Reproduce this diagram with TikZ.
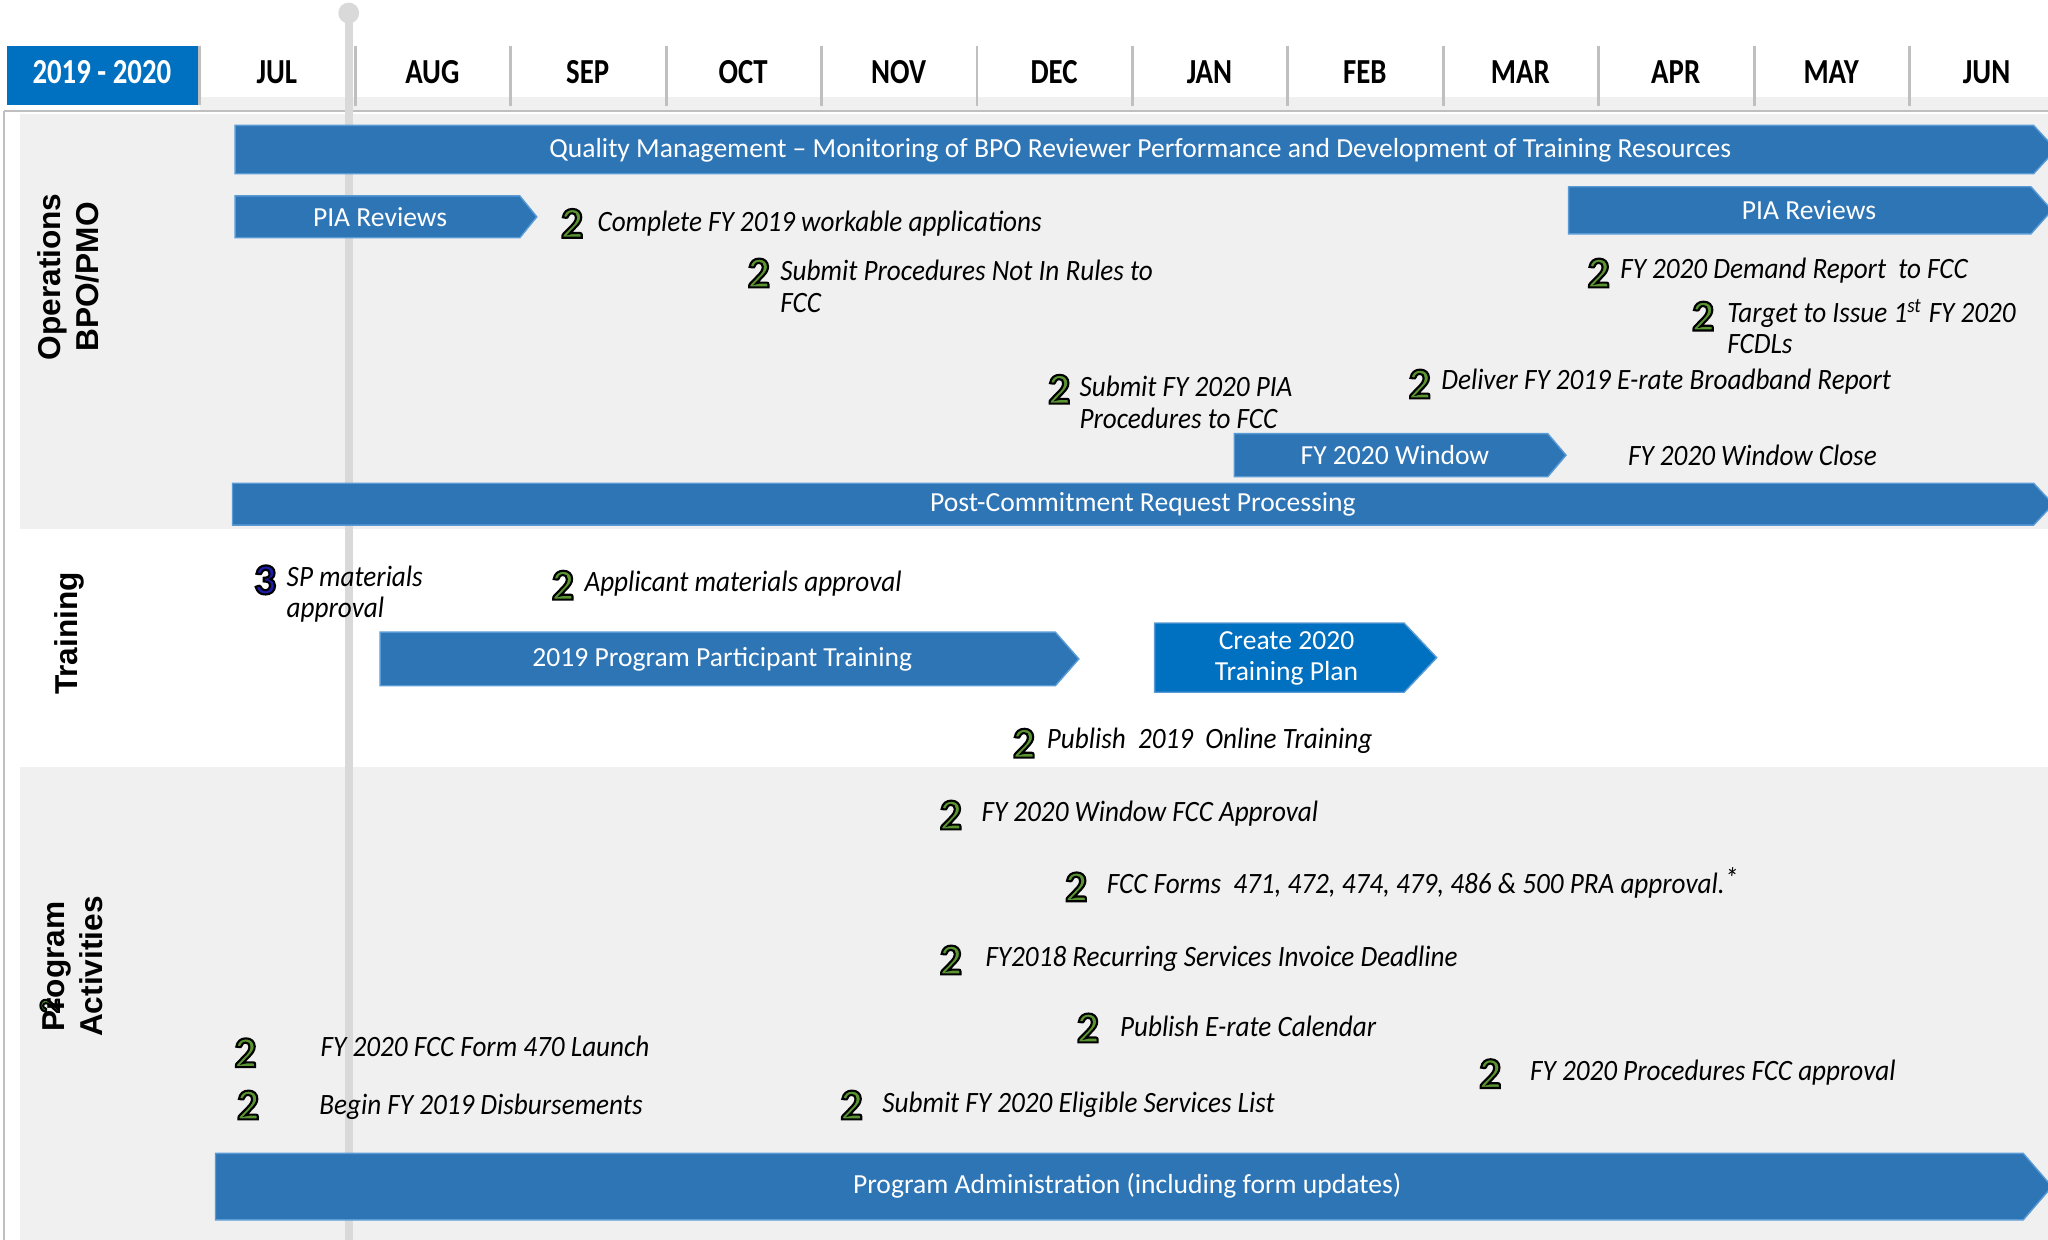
\documentclass[tikz,border=0pt]{standalone}
\usepackage{fontspec}
\setmainfont{Carlito}
\newfontfamily\itemfont[FakeStretch=0.92]{Carlito}
\newfontfamily\headfont[FakeStretch=0.82]{Carlito}
\newfontfamily\lanefont{Liberation Sans}
\definecolor{barblue}{HTML}{2E75B6}
\definecolor{baredge}{HTML}{5B9BD5}
\definecolor{brightblue}{HTML}{0070C0}
\definecolor{lanegray}{HTML}{F0F0F0}
\definecolor{pingray}{HTML}{D9D9D9}
\definecolor{sepgray}{HTML}{BFBFBF}
\definecolor{numgreen}{HTML}{5A9531}
\definecolor{numblue}{HTML}{1C1CA6}
% outlined digit: green fill, black stroke
\newcommand{\ringnum}[1]{\special{pdf:literal direct 0 0 0 RG 2 Tr 0.6 w}#1\special{pdf:literal direct 0 Tr 0.3985 w}}

\begin{document}
\begin{tikzpicture}[x=0.013061cm, y=-0.013061cm,
    bar/.style={fill=barblue, draw=baredge, line width=0.4pt},
    bartext/.style={text=white, font=\fontsize{7.85}{9}\selectfont, align=center},
    item/.style={anchor=west, inner sep=0pt, align=left, font=\itemfont\itshape\fontsize{8.4}{9}\selectfont},
    num/.style={inner sep=0pt, text=numgreen, font=\bfseries\fontsize{12.5}{12.5}\selectfont},
    month/.style={font=\headfont\bfseries\fontsize{10}{10}\selectfont},
    lane/.style={rotate=90, align=center, font=\lanefont\bfseries\fontsize{9}{10.8}\selectfont}]
        \useasboundingbox (0,0) rectangle (1568,949);
        \clip (0,0) rectangle (1568,949);
        % Lanes
        \fill[lanegray] (15,87) rectangle (1568,405);
        \fill[lanegray] (15,587) rectangle (1568,949);
        % Header
        \fill[lanegray] (153,74) rectangle (1568,85);
        \draw[sepgray, line width=0.8pt] (3,85) -- (1568,85);
        \draw[sepgray, line width=0.6pt] (3,85) -- (3,949);
        \fill[brightblue] (5,35) rectangle (152,80);
        \draw[sepgray, line width=0.8pt] (153,35) -- (153,80);
        \node[month, text=white] (year) at (78,55) {2019 - 2020};
        \foreach \x in {272,391,...,1462}
          \draw[sepgray, line width=0.8pt] (\x,35) -- (\x,81);
        \foreach \m [count=\i] in {JUL,AUG,SEP,OCT,NOV,DEC,JAN,FEB,MAR,APR,MAY,JUN}
          \node[month] (mon\i) at (93+119*\i,55) {\m};
        % Today marker
        \fill[pingray] (267,10) circle (8);
        \draw[pingray, line width=2.2pt] (267,14) -- (267,949);
        % Bars
        \draw[bar] (180,96) -- (1557,96) -- (1574,114.5) -- (1557,133) -- (180,133) -- cycle;
        \draw[bar] (180,150) -- (398,150) -- (411,166) -- (398,182) -- (180,182) -- cycle;
        \draw[bar] (1201,143) -- (1555,143) -- (1571,161) -- (1555,179) -- (1201,179) -- cycle;
        \draw[bar] (945,332) -- (1185,332) -- (1199,348.5) -- (1185,365) -- (945,365) -- cycle;
        \draw[bar] (178,370) -- (1557,370) -- (1572,386) -- (1557,402) -- (178,402) -- cycle;
        \draw[bar] (291,484) -- (808,484) -- (826,504.5) -- (808,525) -- (291,525) -- cycle;
        \draw[bar, fill=brightblue] (884,477) -- (1075,477) -- (1100,503.5) -- (1075,530) -- (884,530) -- cycle;
        \draw[bar] (165,883) -- (1549,883) -- (1571,908.5) -- (1549,934) -- (165,934) -- cycle;
        \node[bartext] (quality) at (873,115) {Quality Management -- Monitoring of BPO Reviewer Performance and Development of Training Resources};
        \node[bartext] (pia1) at (291,166) {PIA Reviews};
        \node[bartext] (pia2) at (1385,161) {PIA Reviews};
        \node[bartext] (window) at (1068,348) {FY 2020 Window};
        \node[bartext] (postcommit) at (875,386) {Post-Commitment Request Processing};
        \node[bartext] (training) at (553,505) {2019 Program Participant Training};
        \node[bartext] (plan) at (985,504) {Create 2020\\Training Plan};
        \node[bartext] (admin) at (863,908) {Program Administration (including form updates)};
        % Operations milestones
        \node[num] (n1) at (438,171) {\ringnum{2}};
        \node[item] (t1) at (457,171) {Complete FY 2019 workable applications};
        \node[num] (n2) at (581,209) {\ringnum{2}};
        \node[item] (t2) at (597,219) {Submit Procedures Not In Rules to\\FCC};
        \node[num] (n3) at (811,298) {\ringnum{2}};
        \node[item] (t3) at (826,308) {Submit FY 2020 PIA\\Procedures to FCC};
        \node[num] (n4) at (1087,294) {\ringnum{2}};
        \node[item] (t4) at (1103,292) {Deliver FY 2019 E-rate Broadband Report};
        \node[num] (n5) at (1224,209) {\ringnum{2}};
        \node[item] (t5) at (1240,207) {FY 2020 Demand Report\ \ to FCC};
        \node[num] (n6) at (1304,242) {\ringnum{2}};
        \node[item] (t6) at (1322,250) {Target to Issue 1\textsuperscript{st} FY 2020\\FCDLs};
        \node[item] (t7) at (1246,349) {FY 2020 Window Close};
        % Training milestones
        \node[num, text=numblue] (n8) at (203,444) {\ringnum{3}};
        \node[item] (t8) at (219,455) {SP materials\\approval};
        \node[num] (n9) at (431,448) {\ringnum{2}};
        \node[item] (t9) at (447,447) {Applicant materials approval};
        \node[num] (n10) at (784,569) {\ringnum{2}};
        \node[item] (t10) at (801,567) {Publish\ \ 2019\ \ Online Training};
        % Program milestones
        \node[num] (n11) at (728,624) {\ringnum{2}};
        \node[item] (t11) at (751,623) {FY 2020 Window FCC Approval};
        \node[num] (n12) at (824,679) {\ringnum{2}};
        \node[item] (t12) at (847,676) {FCC Forms\ \ 471, 472, 474, 479, 486 \& 500 PRA approval.\raisebox{0.35ex}{*}};
        \node[num] (n13) at (728,735) {\ringnum{2}};
        \node[item] (t13) at (754,734) {FY2018 Recurring Services Invoice Deadline};
        \node[num] (n14) at (833,787) {\ringnum{2}};
        \node[item] (t14) at (857,786) {Publish E-rate Calendar};
        \node[num] (n15) at (188,806) {\ringnum{2}};
        \node[item] (t15) at (245,801) {FY 2020 FCC Form 470 Launch};
        \node[num] (n16) at (190,846) {\ringnum{2}};
        \node[item] (t16) at (244,847) {Begin FY 2019 Disbursements};
        \node[num] (n17) at (652,846) {\ringnum{2}};
        \node[item] (t17) at (675,846) {Submit FY 2020 Eligible Services List};
        \node[num] (n18) at (1141,822) {\ringnum{2}};
        \node[item] (t18) at (1171,821) {FY 2020 Procedures FCC approval};
        % Lane labels
        \node[num, rotate=90, font=\bfseries\fontsize{8}{8}\selectfont] (stray) at (38,770) {\ringnum{2}};
        \node[lane] (ops) at (52,212) {Operations\\BPO/PMO};
        \node[lane] (train) at (53,485) {Training};
        \node[lane] (prog) at (56,740) {Program\\Activities};
      \end{tikzpicture}
\end{document}
